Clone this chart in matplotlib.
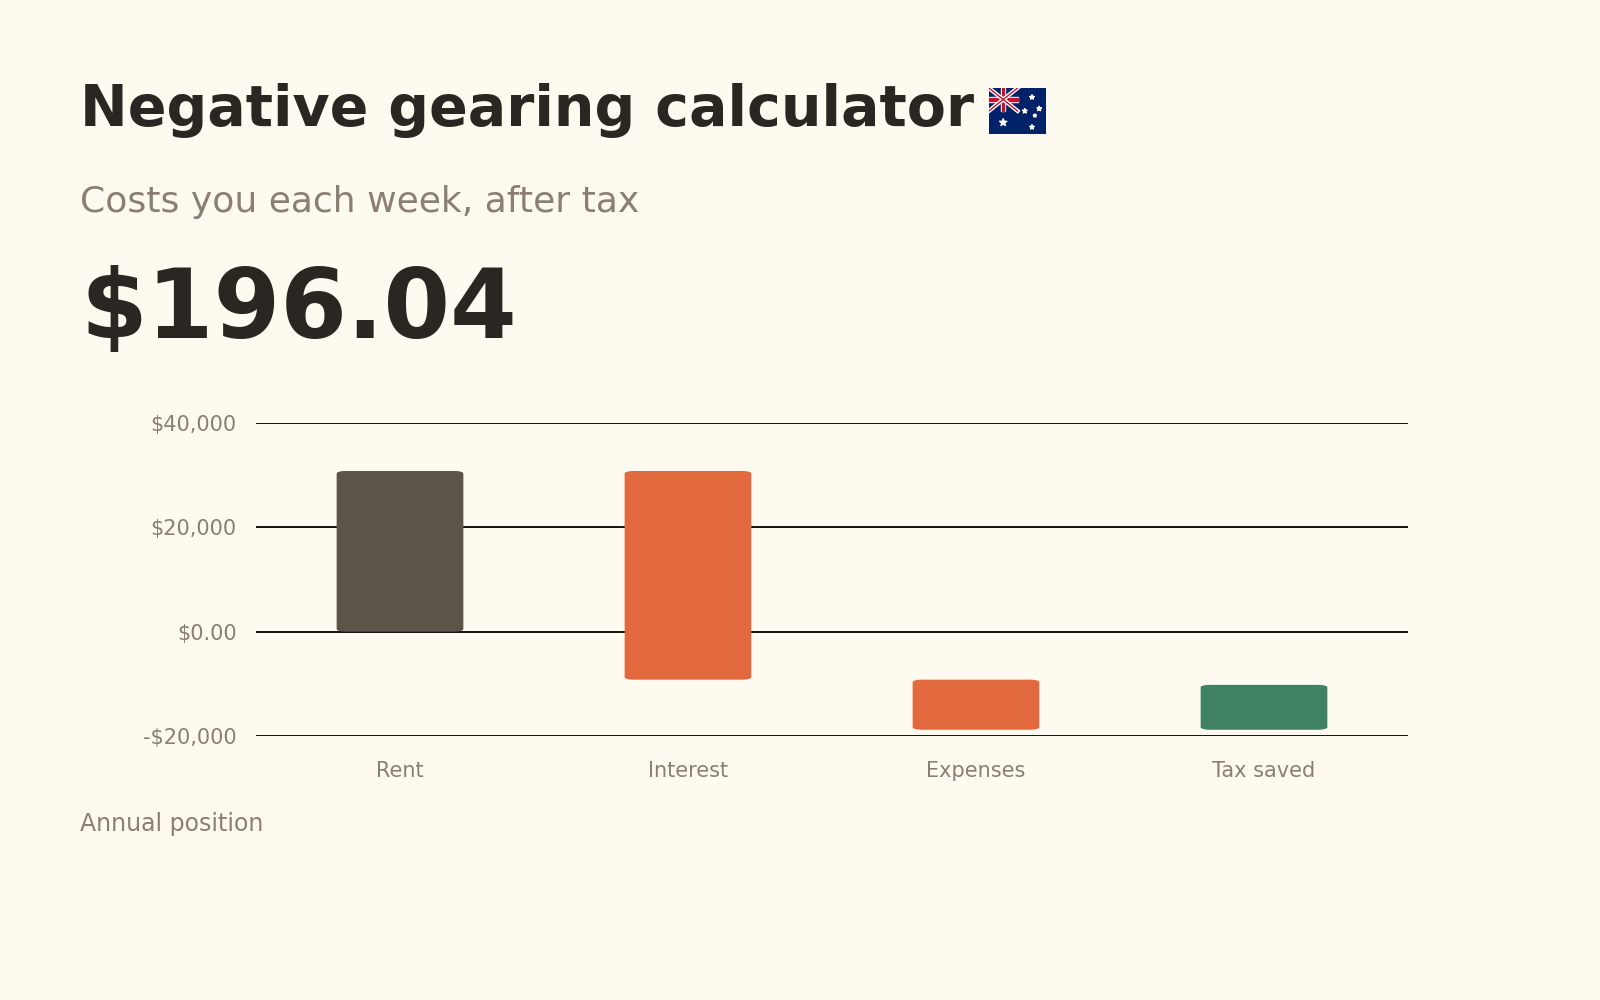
import matplotlib
matplotlib.use("Agg")
import matplotlib.pyplot as plt
from matplotlib.patches import FancyBboxPatch, Rectangle

categories = ["Rent", "Interest", "Expenses", "Tax saved"]
changes = [30800, -40000, -9600, 8600]
bar_colors = ["#5c5449", "#e2693e", "#e2693e", "#3e8262"]
yticks = [-20000, 0, 20000, 40000]
ytick_labels = ["-$20,000", "$0.00", "$20,000", "$40,000"]
weekly_cost = "$196.04"

bg = "#fffaf0"
grey = "#8a7f72"
dark = "#2a2722"

fig = plt.figure(figsize=(16, 10), dpi=100, facecolor=bg)
fig.text(0.05, 0.89, "Negative gearing calculator", fontsize=41, fontweight="bold",
         color=dark, va="center")
fig.text(0.05, 0.798, "Costs you each week, after tax", fontsize=26, color=grey, va="center")
fig.text(0.05, 0.688, weekly_cost, fontsize=69, fontweight="bold", color=dark, va="center")
fig.text(0.05, 0.176, "Annual position", fontsize=17, color=grey, va="center")

# small flag drawn next to the title
fa = fig.add_axes([0.618, 0.866, 0.036, 0.046])
fa.set_xlim(0, 2)
fa.set_ylim(0, 1)
fa.axis("off")
fa.add_patch(Rectangle((0, 0), 2, 1, color="#012169"))
fa.plot([0, 1], [0.5, 1], color="white", lw=3)
fa.plot([0, 1], [1, 0.5], color="white", lw=3)
fa.plot([0, 1], [0.5, 1], color="#c8102e", lw=1)
fa.plot([0, 1], [1, 0.5], color="#c8102e", lw=1)
fa.add_patch(Rectangle((0, 0.69), 1, 0.12, color="white"))
fa.add_patch(Rectangle((0.44, 0.5), 0.12, 0.5, color="white"))
fa.add_patch(Rectangle((0, 0.72), 1, 0.06, color="#c8102e"))
fa.add_patch(Rectangle((0.47, 0.5), 0.06, 0.5, color="#c8102e"))
fa.scatter([0.5, 1.5, 1.25, 1.75, 1.5, 1.6], [0.25, 0.15, 0.5, 0.55, 0.8, 0.4],
           marker="*", color="white", s=[30, 12, 12, 12, 12, 6])

ax = fig.add_axes([0.160, 0.264, 0.720, 0.313], facecolor=bg)
ax.set_xlim(-0.5, len(categories) - 0.5)
ax.set_ylim(-20000, 40000)

w = 0.44
run = 0
for i, (c, col) in enumerate(zip(changes, bar_colors)):
    lo, hi = sorted([run, run + c])
    ax.add_patch(FancyBboxPatch((i - w / 2, lo), w, hi - lo,
                                boxstyle="round,pad=0,rounding_size=0.03",
                                mutation_aspect=18000, facecolor=col, edgecolor="none",
                                zorder=3))
    run += c

for y in yticks:
    ax.axhline(y, color="black", lw=1.3, zorder=2)
ax.set_yticks(yticks)
ax.set_yticklabels(ytick_labels)
ax.set_xticks(range(len(categories)))
ax.set_xticklabels(categories)
ax.tick_params(length=0, labelsize=15, labelcolor=grey)
ax.tick_params(axis="x", pad=18)
ax.tick_params(axis="y", pad=14)
for s in ax.spines.values():
    s.set_visible(False)

fig.savefig("out.png", facecolor=bg)
